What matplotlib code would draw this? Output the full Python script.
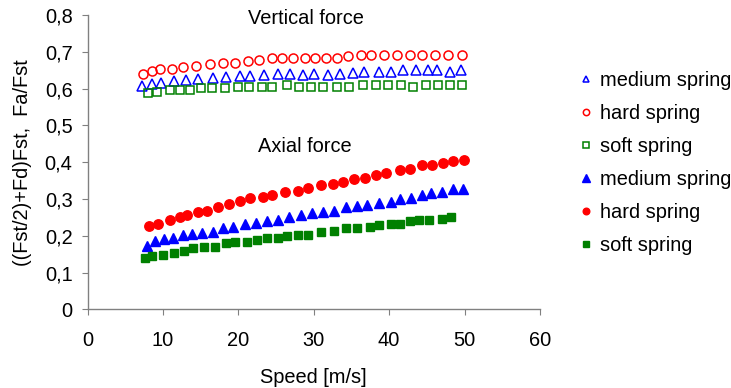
import matplotlib
matplotlib.use("Agg")
import matplotlib.pyplot as plt
from matplotlib.ticker import FuncFormatter

plt.rcParams['font.family'] = ['Liberation Sans', 'DejaVu Sans']

# Vertical force (open markers)
v_med_x = [7.2, 8.5, 9.7, 11.5, 13.1, 14.7, 16.6, 18.4, 20.2, 21.5, 23.4, 25.3, 26.9, 28.6, 30.0,
           31.9, 33.5, 35.2, 36.7, 38.6, 40.2, 41.8, 43.5, 45.2, 46.4, 48.0, 49.5]
v_med_y = [0.608, 0.612, 0.615, 0.620, 0.623, 0.625, 0.628, 0.632, 0.635, 0.635, 0.637, 0.640, 0.640, 0.638, 0.640,
           0.637, 0.640, 0.642, 0.645, 0.645, 0.645, 0.650, 0.650, 0.650, 0.650, 0.645, 0.650]
v_hard_x = [7.4, 8.6, 9.6, 11.2, 12.7, 14.4, 16.3, 18.0, 19.5, 21.3, 22.7, 24.5, 25.8, 27.2,
            28.9, 30.2, 31.6, 33.1, 34.5, 36.2, 37.6, 39.3, 41.1, 42.8, 44.4, 46.1, 47.8, 49.6]
v_hard_y = [0.639, 0.647, 0.653, 0.653, 0.658, 0.662, 0.666, 0.669, 0.669, 0.675, 0.677, 0.683, 0.683, 0.683,
            0.683, 0.683, 0.683, 0.684, 0.688, 0.690, 0.690, 0.690, 0.690, 0.690, 0.690, 0.690, 0.690, 0.690]
v_soft_x = [8.0, 9.25, 10.9, 12.2, 13.6, 15.1, 16.5, 18.2, 19.9, 21.4, 23.1, 24.5, 26.5, 28.1,
            29.7, 31.2, 33.1, 34.7, 36.5, 38.2, 39.9, 41.6, 43.2, 44.9, 46.5, 48.0, 49.6]
v_soft_y = [0.589, 0.592, 0.596, 0.596, 0.596, 0.601, 0.601, 0.601, 0.605, 0.605, 0.605, 0.605, 0.610, 0.605,
            0.605, 0.605, 0.605, 0.605, 0.610, 0.610, 0.610, 0.610, 0.605, 0.610, 0.610, 0.610, 0.610]

# Axial force (filled markers)
a_med_x = [7.9, 9.0, 10.1, 11.3, 12.6, 13.8, 15.2, 16.6, 18.0, 19.3, 20.9, 22.4, 23.8, 25.3, 26.7, 28.3,
           29.8, 31.2, 32.7, 34.3, 35.7, 37.1, 38.6, 40.2, 41.5, 42.9, 44.3, 45.6, 47.0, 48.5, 49.8]
a_med_y = [0.172, 0.186, 0.190, 0.195, 0.201, 0.204, 0.208, 0.211, 0.220, 0.224, 0.231, 0.235, 0.239, 0.242, 0.250, 0.255,
           0.262, 0.264, 0.268, 0.277, 0.280, 0.284, 0.289, 0.293, 0.300, 0.302, 0.311, 0.315, 0.318, 0.326, 0.327]
a_hard_x = [8.2, 9.4, 10.9, 12.2, 13.2, 14.6, 15.9, 17.3, 18.7, 20.2, 21.6, 23.3, 24.5, 26.2, 27.9,
            29.3, 31.0, 32.5, 33.9, 35.3, 36.8, 38.2, 39.6, 41.4, 42.8, 44.4, 45.7, 47.1, 48.5, 49.9]
a_hard_y = [0.226, 0.233, 0.242, 0.250, 0.255, 0.264, 0.268, 0.277, 0.286, 0.295, 0.302, 0.305, 0.311, 0.318, 0.322,
            0.331, 0.337, 0.340, 0.347, 0.353, 0.356, 0.366, 0.371, 0.378, 0.381, 0.391, 0.391, 0.398, 0.402, 0.407]
a_soft_x = [7.6, 8.6, 10.0, 11.5, 12.8, 14.0, 15.5, 16.9, 18.3, 19.6, 21.1, 22.5, 23.8, 25.2, 26.5,
            27.9, 29.3, 31.0, 32.7, 34.3, 35.7, 37.4, 38.7, 40.2, 41.4, 42.8, 44.0, 45.3, 47.0, 48.2]
a_soft_y = [0.139, 0.144, 0.148, 0.152, 0.159, 0.166, 0.170, 0.170, 0.179, 0.182, 0.182, 0.188, 0.195, 0.195, 0.199,
            0.202, 0.202, 0.210, 0.213, 0.220, 0.220, 0.224, 0.229, 0.233, 0.233, 0.239, 0.242, 0.242, 0.246, 0.250]

labels = ["medium spring", "hard spring", "soft spring", "medium spring", "hard spring", "soft spring"]
x_ticks = [0, 10, 20, 30, 40, 50, 60]
y_ticks = [0, 0.1, 0.2, 0.3, 0.4, 0.5, 0.6, 0.7, 0.8]

BLUE, RED, GREEN = "#0000ff", "#ff0000", "#008000"
FS = 14.4

fig = plt.figure(figsize=(7.31, 3.88), dpi=100)
ax = fig.add_axes([87.5 / 731, 1 - 309.3 / 388, (540 - 87.5) / 731, (309.3 - 15) / 388])

ax.plot(v_med_x, v_med_y, ls='none', marker='^', ms=7, mfc='none', mec=BLUE, mew=1.1, label=labels[0])
ax.plot(v_hard_x, v_hard_y, ls='none', marker='o', ms=6.5, mfc='none', mec=RED, mew=1.1, label=labels[1])
ax.plot(v_soft_x, v_soft_y, ls='none', marker='s', ms=6, mfc='none', mec=GREEN, mew=1.1, label=labels[2])
ax.plot(a_med_x, a_med_y, ls='none', marker='^', ms=7.5, mfc=BLUE, mec=BLUE, label=labels[3])
ax.plot(a_hard_x, a_hard_y, ls='none', marker='o', ms=6.8, mfc=RED, mec=RED, label=labels[4])
ax.plot(a_soft_x, a_soft_y, ls='none', marker='s', ms=6.2, mfc=GREEN, mec=GREEN, label=labels[5])

ax.set_xlim(0, 60)
ax.set_ylim(0, 0.8)
ax.set_xticks(x_ticks)
ax.set_yticks(y_ticks)
ax.yaxis.set_major_formatter(FuncFormatter(lambda v, p: ("%.1f" % v).replace('.', ',') if v != 0 else "0"))
ax.xaxis.set_major_formatter(FuncFormatter(lambda v, p: "%d" % v))
for s in ['top', 'right']:
    ax.spines[s].set_visible(False)
for s in ['left', 'bottom']:
    ax.spines[s].set_color('#808080')
    ax.spines[s].set_linewidth(1.0)
ax.tick_params(direction='out', length=4.3, color='#808080', labelsize=FS)
ax.tick_params(axis='x', pad=11)
ax.tick_params(axis='y', pad=6.5)

ax.set_xlabel("Speed [m/s]", fontsize=FS, labelpad=13)
ax.set_ylabel("((Fst/2)+Fd)Fst,  Fa/Fst", fontsize=FS, labelpad=9)

ax.text(28.96, 0.79, "Vertical force", ha='center', va='center', fontsize=FS)
ax.text(28.8, 0.4435, "Axial force", ha='center', va='center', fontsize=FS)

leg = ax.legend(loc='upper left', bbox_to_anchor=(580 / 731, 1 - 71 / 388),
                bbox_transform=fig.transFigure, frameon=False, fontsize=FS,
                markerscale=0.7, handlelength=0.55, handletextpad=0.45, labelspacing=0.7,
                borderaxespad=0, borderpad=0)

fig.savefig("out.png", dpi=100)
